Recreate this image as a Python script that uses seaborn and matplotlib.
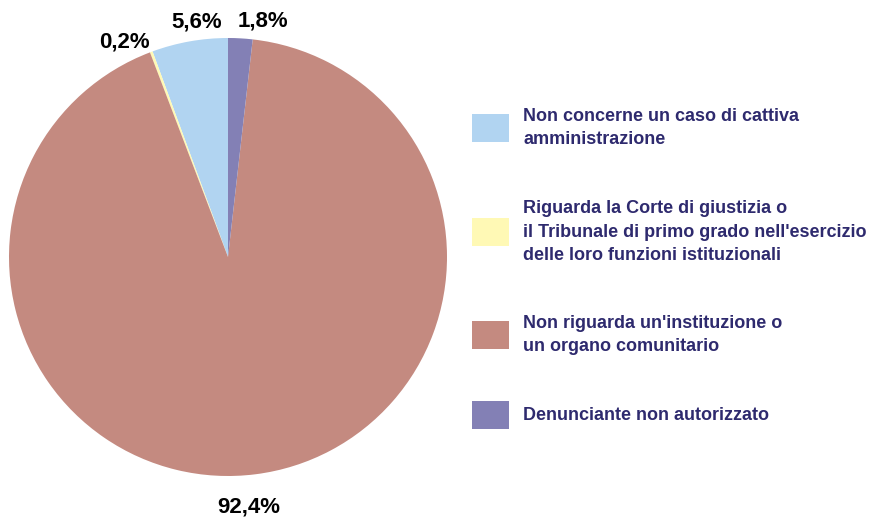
import numpy as np
import matplotlib
matplotlib.use("Agg")
import matplotlib.pyplot as plt
import seaborn as sns
from matplotlib.patches import Rectangle

sns.set_theme(style="white")
plt.rcParams['font.family'] = ['Liberation Sans', 'DejaVu Sans']

categories = [
    "Non concerne un caso di cattiva\namministrazione",
    "Riguarda la Corte di giustizia o\nil Tribunale di primo grado nell'esercizio\ndelle loro funzioni istituzionali",
    "Non riguarda un'instituzione o\nun organo comunitario",
    "Denunciante non autorizzato",
]
values = [5.6, 0.2, 92.4, 1.8]
value_labels = ["5,6%", "0,2%", "92,4%", "1,8%"]
colors = ["#B1D4F1", "#FFF9B5", "#C48A80", "#8380B5"]
text_color = "#2E2A6E"

fig = plt.figure(figsize=(8.71, 5.19), dpi=100)
ax = fig.add_axes([9/871, 43/519, 438/871, 438/519])
wedges, _ = ax.pie(values, colors=colors, startangle=90, counterclock=True,
                   wedgeprops=dict(linewidth=0))
ax.set_xlim(-1, 1)
ax.set_ylim(-1, 1)
ax.set_aspect('equal')
ax.axis('off')

# percentage labels, placed outside each wedge with small nudges (pixels)
nudges = [(10, 0), (-19, -11), (-10, -7), (21, -2)]
radii = [1.09, 1.10, 1.12, 1.09]
for w, lab, (dx, dy), r in zip(wedges, value_labels, nudges, radii):
    mid = np.deg2rad((w.theta1 + w.theta2) / 2)
    ax.annotate(lab, xy=(r*np.cos(mid), r*np.sin(mid)), xytext=(dx*0.72, dy*0.72),
                textcoords='offset points', ha='center', va='center',
                fontsize=16, fontweight='bold', color='black', annotation_clip=False)

# legend
box_tops = [114, 218, 321, 401]
for cat, col, top in zip(categories, colors, box_tops):
    fig.patches.append(Rectangle((472/871, 1 - (top+28)/519), 37/871, 28/519,
                                 transform=fig.transFigure, facecolor=col,
                                 edgecolor='none'))
    fig.text(523/871, 1 - (top+14)/519, cat, ha='left', va='center',
             fontsize=13, fontweight='bold', color=text_color, linespacing=1.5)

fig.savefig("out.png", dpi=100)
